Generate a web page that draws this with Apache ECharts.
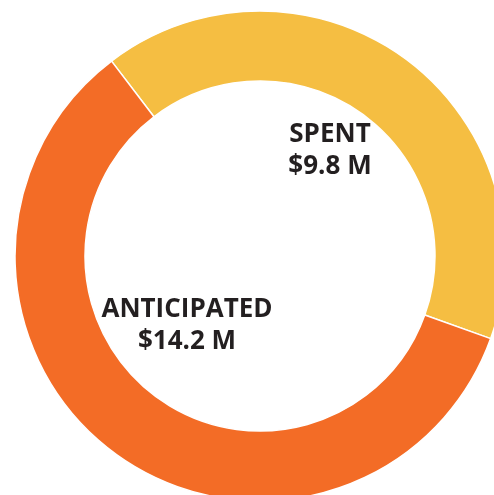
<!DOCTYPE html>
<html>
<head>
<meta charset="utf-8">
<script src="https://cdn.jsdelivr.net/npm/echarts@6/dist/echarts.min.js"></script>
<style>
	html, body { margin: 0; padding: 0; background: #fff; }
	#chart { width: 494px; height: 495px; }
</style>
</head>
<body>
<div id="chart"></div>
<script>
	var names = ['SPENT', 'ANTICIPATED'];
	var values = [9.8, 14.2];
	var colors = ['#F5BE42', '#F36C26'];

	var chart = echarts.init(document.getElementById('chart'));

	// label text, "$9.8 M"
	function labelText(i) {
		return names[i] + '\n$' + values[i].toFixed(1) + ' M';
	}

	var labelStyle = {
		fontFamily: 'Open Sans',
		fontWeight: 'bold',
		fontSize: 26,
		lineHeight: 32,
		fill: '#231F20',
		textAlign: 'center',
		textVerticalAlign: 'middle'
	};

	var option = {
		backgroundColor: '#fff',
		animation: false,
		series: [{
			type: 'pie',
			center: [260, 256],
			radius: [175, 245],
			startAngle: 127.3,
			clockwise: true,
			label: { show: false },
			labelLine: { show: false },
			itemStyle: {
				borderColor: '#fff',
				borderWidth: 1.5
			},
			data: names.map(function (n, i) {
				return { name: n, value: values[i], itemStyle: { color: colors[i] } };
			})
		}],
		graphic: [{
			type: 'text',
			x: 330,
			y: 151,
			style: Object.assign({ text: labelText(0) }, labelStyle)
		}, {
			type: 'text',
			x: 187,
			y: 326,
			style: Object.assign({ text: labelText(1) }, labelStyle)
		}]
	};

	chart.setOption(option);
</script>
</body>
</html>
